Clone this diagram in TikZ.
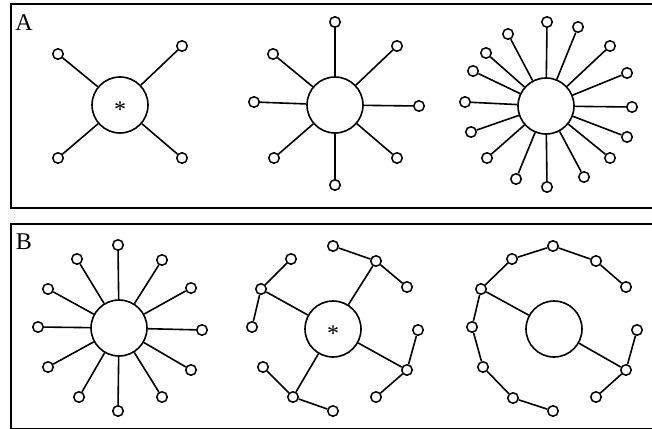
\documentclass[tikz,border=0pt]{standalone}
\usepackage{fontspec}
\setmainfont{Liberation Serif}
\begin{document}
\begin{tikzpicture}[x=1pt, y=-1pt,
    hub/.style={circle, draw, fill=white, line width=1.6pt, minimum size=56pt, inner sep=0pt},
    leaf/.style={circle, draw, fill=white, line width=1.5pt, minimum size=10.5pt, inner sep=0pt},
    link/.style={line width=1.6pt},
    panel/.style={draw, line width=2pt},
    tag/.style={font=\fontsize{24}{28}\selectfont, inner sep=0pt},
    starmark/.style={font=\fontsize{24}{28}\selectfont, inner sep=0pt}]
    \useasboundingbox (0,0) rectangle (652,428);
    \clip (0,0) rectangle (652,428);

    % Draw panels
    \draw[panel] (11,4) rectangle (670,208);
    \draw[panel] (11,224) rectangle (670,428.6);
    \node[tag] (A) at (24,22.5) {A};
    \node[tag] (B) at (24,242) {B};

    % Panel A, first star
    \node[hub] (a1) at (120,105) {};
    \node[starmark] (a1s) at (120,110) {*};
    \node[leaf] (a1-1) at (58,54) {};
    \node[leaf] (a1-2) at (182,46) {};
    \node[leaf] (a1-3) at (58,158) {};
    \node[leaf] (a1-4) at (182,158) {};

    % Panel A, second star
    \node[hub] (a2) at (335,105) {};
    \node[leaf] (a2-1) at (335,22) {};
    \node[leaf] (a2-2) at (397,46) {};
    \node[leaf] (a2-3) at (419,106) {};
    \node[leaf] (a2-4) at (397,158) {};
    \node[leaf] (a2-5) at (335,185) {};
    \node[leaf] (a2-6) at (274,158) {};
    \node[leaf] (a2-7) at (254,102) {};
    \node[leaf] (a2-8) at (273,54) {};

    % Panel A, third star
    \node[hub] (a3) at (546,106) {};
    \node[leaf] (a3-1) at (547,22) {};
    \node[leaf] (a3-2) at (578,27) {};
    \node[leaf] (a3-3) at (610,46) {};
    \node[leaf] (a3-4) at (627,73) {};
    \node[leaf] (a3-5) at (632,107) {};
    \node[leaf] (a3-6) at (627,137) {};
    \node[leaf] (a3-7) at (610,158) {};
    \node[leaf] (a3-8) at (584,177) {};
    \node[leaf] (a3-9) at (547,187) {};
    \node[leaf] (a3-10) at (516,179) {};
    \node[leaf] (a3-11) at (487,158) {};
    \node[leaf] (a3-12) at (471,132) {};
    \node[leaf] (a3-13) at (465,102) {};
    \node[leaf] (a3-14) at (473,71) {};
    \node[leaf] (a3-15) at (486,53) {};
    \node[leaf] (a3-16) at (508,34) {};

    % Panel B, star
    \node[hub] (b1) at (119,328) {};
    \node[leaf] (b1-1) at (118,245) {};
    \node[leaf] (b1-2) at (162,260) {};
    \node[leaf] (b1-3) at (191,288) {};
    \node[leaf] (b1-4) at (202,330) {};
    \node[leaf] (b1-5) at (191,370) {};
    \node[leaf] (b1-6) at (162,397) {};
    \node[leaf] (b1-7) at (118,411) {};
    \node[leaf] (b1-8) at (79,397) {};
    \node[leaf] (b1-9) at (48,367) {};
    \node[leaf] (b1-10) at (38,327) {};
    \node[leaf] (b1-11) at (48,289) {};
    \node[leaf] (b1-12) at (77,259) {};

    % Panel B, tree with four branches
    \node[hub] (b2) at (333,329) {};
    \node[starmark] (b2s) at (333,334) {*};
    \node[leaf] (b2-1) at (376,261) {};
    \node[leaf] (b2-1a) at (333,246) {};
    \node[leaf] (b2-1b) at (407,287) {};
    \node[leaf] (b2-2) at (261,289) {};
    \node[leaf] (b2-2a) at (291,259) {};
    \node[leaf] (b2-2b) at (252,327) {};
    \node[leaf] (b2-3) at (293,397) {};
    \node[leaf] (b2-3a) at (263,367) {};
    \node[leaf] (b2-3b) at (333,411) {};
    \node[leaf] (b2-4) at (407,370) {};
    \node[leaf] (b2-4a) at (418,330) {};
    \node[leaf] (b2-4b) at (376,397) {};

    % Panel B, chains
    \node[hub] (b3) at (554,329) {};
    \node[leaf] (b3-1) at (481,289) {};
    \node[leaf] (b3-2) at (512,259) {};
    \node[leaf] (b3-3) at (553,246) {};
    \node[leaf] (b3-4) at (596,261) {};
    \node[leaf] (b3-5) at (626,287) {};
    \node[leaf] (b3-6) at (472,327) {};
    \node[leaf] (b3-7) at (483,367) {};
    \node[leaf] (b3-8) at (513,398) {};
    \node[leaf] (b3-9) at (553,411) {};
    \node[leaf] (b3-10) at (626,370) {};
    \node[leaf] (b3-11) at (637,330) {};
    \node[leaf] (b3-12) at (596,397) {};

    % Draw connections
    \foreach \i in {1,...,4} \draw[link] (a1) -- (a1-\i);
    \foreach \i in {1,...,8} \draw[link] (a2) -- (a2-\i);
    \foreach \i in {1,...,16} \draw[link] (a3) -- (a3-\i);
    \foreach \i in {1,...,12} \draw[link] (b1) -- (b1-\i);
    \foreach \i in {1,...,4} {
        \draw[link] (b2) -- (b2-\i);
        \draw[link] (b2-\i) -- (b2-\i a);
        \draw[link] (b2-\i) -- (b2-\i b);
    }
    \draw[link] (b3) -- (b3-1);
    \draw[link] (b3-1) -- (b3-2) -- (b3-3) -- (b3-4) -- (b3-5);
    \draw[link] (b3-1) -- (b3-6) -- (b3-7) -- (b3-8) -- (b3-9);
    \draw[link] (b3) -- (b3-10);
    \draw[link] (b3-10) -- (b3-11);
    \draw[link] (b3-10) -- (b3-12);
\end{tikzpicture}
\end{document}
